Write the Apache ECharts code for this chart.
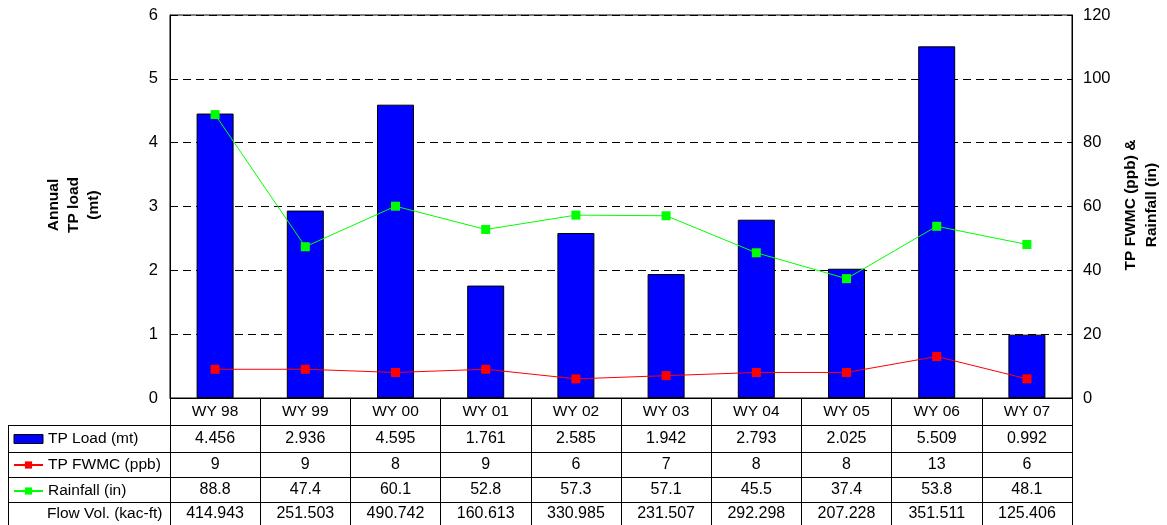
<!DOCTYPE html>
<html>
<head>
<meta charset="utf-8">
<script src="https://cdn.jsdelivr.net/npm/echarts@6/dist/echarts.min.js"></script>
<style>
  html, body { margin: 0; padding: 0; background: #fff; }
  #chart { width: 1167px; height: 525px; }
</style>
</head>
<body>
<div id="chart"></div>
<script>
// Water years
const categories = ['WY 98', 'WY 99', 'WY 00', 'WY 01', 'WY 02', 'WY 03', 'WY 04', 'WY 05', 'WY 06', 'WY 07'];
// Annual TP load (mt)
const tpLoad = [4.456, 2.936, 4.595, 1.761, 2.585, 1.942, 2.793, 2.025, 5.509, 0.992];
// TP flow-weighted mean concentration (ppb)
const tpFwmc = [9, 9, 8, 9, 6, 7, 8, 8, 13, 6];
// Rainfall (in)
const rainfall = [88.8, 47.4, 60.1, 52.8, 57.3, 57.1, 45.5, 37.4, 53.8, 48.1];
// Flow volume (kac-ft)
const flowVol = [414.943, 251.503, 490.742, 160.613, 330.985, 231.507, 292.298, 207.228, 351.511, 125.406];
// Axis ranges
const leftAxis = { min: 0, max: 6, step: 1 };
const rightAxis = { min: 0, max: 120, step: 20 };

const FONT = '"Liberation Sans", Arial, sans-serif';
const chart = echarts.init(document.getElementById('chart'), null, { renderer: 'canvas' });

const gridBox = { left: 170, top: 15, right: 95, bottom: 127 };

chart.setOption({
  animation: false,
  backgroundColor: '#fff',
  textStyle: { fontFamily: FONT, color: '#000' },
  grid: {
    left: gridBox.left, top: gridBox.top, right: gridBox.right, bottom: gridBox.bottom,
    show: true, borderColor: '#000', borderWidth: 1, backgroundColor: 'transparent'
  },
  legend: {
    orient: 'vertical',
    left: 13,
    top: 430,
    padding: 0,
    itemWidth: 29,
    itemHeight: 9,
    itemGap: 8,
    selectedMode: false,
    textStyle: { fontFamily: FONT, fontSize: 15.5, color: '#000', lineHeight: 18 },
    data: [
      { name: 'TP Load (mt)', icon: 'rect', itemStyle: { borderColor: '#000', borderWidth: 1 } },
      { name: 'TP FWMC (ppb)' },
      { name: 'Rainfall (in)' }
    ]
  },
  xAxis: {
    type: 'category',
    data: categories,
    boundaryGap: true,
    axisLine: { show: true, lineStyle: { color: '#000', width: 1 } },
    axisTick: { show: true, interval: 0, length: 127, lineStyle: { color: '#000', width: 1 } },
    axisLabel: { show: true, interval: 0, margin: 6, fontSize: 15.5, color: '#000', fontFamily: FONT },
    splitLine: { show: false }
  },
  yAxis: [
    {
      type: 'value',
      min: leftAxis.min, max: leftAxis.max, interval: leftAxis.step,
      axisLine: { show: true, lineStyle: { color: '#000', width: 1 } },
      axisTick: { show: false },
      axisLabel: { margin: 12, fontSize: 16.5, color: '#000', fontFamily: FONT },
      splitLine: { show: true, lineStyle: { color: '#000', width: 1, type: [8, 5] } }
    },
    {
      type: 'value',
      position: 'right',
      min: rightAxis.min, max: rightAxis.max, interval: rightAxis.step,
      axisLine: { show: true, lineStyle: { color: '#000', width: 1 } },
      axisTick: { show: false },
      axisLabel: { margin: 11, fontSize: 16.5, color: '#000', fontFamily: FONT },
      splitLine: { show: false }
    }
  ],
  series: [
    {
      name: 'TP Load (mt)',
      type: 'bar',
      yAxisIndex: 0,
      data: tpLoad,
      barWidth: 37,
      itemStyle: { color: '#0000FF', borderColor: '#000', borderWidth: 1 },
      z: 2
    },
    {
      name: 'TP FWMC (ppb)',
      type: 'line',
      yAxisIndex: 1,
      data: tpFwmc,
      symbol: 'rect',
      symbolSize: 9,
      color: '#FF0000',
      lineStyle: { color: '#FF0000', width: 1 },
      itemStyle: { color: '#FF0000' },
      z: 3
    },
    {
      name: 'Rainfall (in)',
      type: 'line',
      yAxisIndex: 1,
      data: rainfall,
      symbol: 'rect',
      symbolSize: 9,
      color: '#00FF00',
      lineStyle: { color: '#00FF00', width: 1 },
      itemStyle: { color: '#00FF00' },
      z: 3
    }
  ]
});

// Data table under the plot, aligned to the category axis
const yBase = chart.convertToPixel({ yAxisIndex: 0 }, 0);
const xRight = 1167 - gridBox.right;
const tableLeft = 8;
const rowEdges = [yBase, yBase + 27, yBase + 54, yBase + 79, yBase + 104, yBase + 127];

const rows = [
  tpLoad.map(v => v.toFixed(3)),
  tpFwmc.map(v => String(v)),
  rainfall.map(v => v.toFixed(1)),
  flowVol.map(v => v.toFixed(3))
];

const graphics = [];
// horizontal rules
for (let r = 1; r < rowEdges.length; r++) {
  const y = Math.round(rowEdges[r]) + 0.5;
  graphics.push({
    type: 'line', silent: true,
    shape: { x1: tableLeft, y1: y, x2: xRight, y2: y },
    style: { stroke: '#000', lineWidth: 1 }
  });
}
// left border of the row-header column
graphics.push({
  type: 'line', silent: true,
  shape: { x1: tableLeft + 0.5, y1: rowEdges[1], x2: tableLeft + 0.5, y2: rowEdges[5] },
  style: { stroke: '#000', lineWidth: 1 }
});
// row values
rows.forEach((vals, r) => {
  const yc = (rowEdges[r + 1] + rowEdges[r + 2]) / 2 + 0.5;
  vals.forEach((txt, i) => {
    graphics.push({
      type: 'text', silent: true,
      x: chart.convertToPixel({ xAxisIndex: 0 }, i),
      y: yc,
      style: { text: txt, fontFamily: FONT, fontSize: 16, fill: '#000', align: 'center', verticalAlign: 'middle' }
    });
  });
});
// Flow volume row header (no legend key)
graphics.push({
  type: 'text', silent: true,
  x: 47, y: (rowEdges[4] + rowEdges[5]) / 2 + 0.5,
  style: { text: 'Flow Vol. (kac-ft)', fontFamily: FONT, fontSize: 15.5, fill: '#000', align: 'left', verticalAlign: 'middle' }
});
// axis titles
graphics.push({
  type: 'text', silent: true,
  x: 74, y: 205, rotation: Math.PI / 2,
  style: { text: 'Annual\nTP load\n(mt)', fontFamily: FONT, fontSize: 15.5, fontWeight: 'bold', fill: '#000', align: 'center', verticalAlign: 'middle', lineHeight: 20 }
});
graphics.push({
  type: 'text', silent: true,
  x: 1141, y: 205, rotation: Math.PI / 2,
  style: { text: 'TP FWMC (ppb) &\nRainfall (in)', fontFamily: FONT, fontSize: 15.5, fontWeight: 'bold', fill: '#000', align: 'center', verticalAlign: 'middle', lineHeight: 21 }
});

chart.setOption({ graphic: graphics });
</script>
</body>
</html>
